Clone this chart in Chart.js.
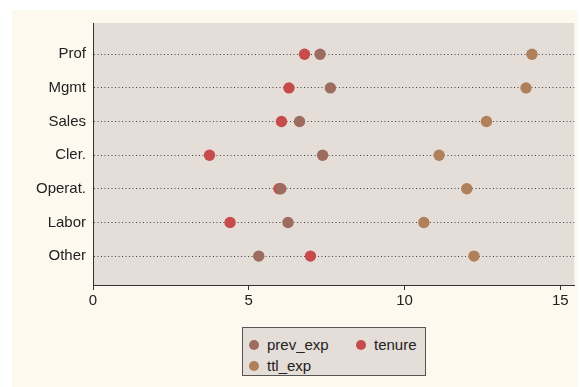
<!DOCTYPE html>
<html>
<head>
<meta charset="utf-8">
<script src="https://cdn.jsdelivr.net/npm/chart.js@4"></script>
<style>
  html, body { margin: 0; padding: 0; background: #ffffff; }
  #wrap { position: relative; width: 580px; height: 387px; }
  #legend {
    position: absolute; left: 242px; top: 327px; width: 182px; height: 47px;
    background: #e4ddd8; border: 1px solid #555;
    font-family: "Liberation Sans", Arial, sans-serif; font-size: 15px; color: #222;
  }
  .item { position: absolute; display: flex; align-items: center; white-space: nowrap; }
  .dot { width: 10px; height: 10px; border-radius: 50%; margin-right: 8px; }
</style>
</head>
<body>
<div id="wrap">
  <canvas id="c" width="580" height="387"></canvas>
  <div id="legend"></div>
</div>
<script>
const categories = ["Prof", "Mgmt", "Sales", "Cler.", "Operat.", "Labor", "Other"];
const prevExp = [7.29, 7.62, 6.63, 7.37, 6.03, 6.26, 5.32];
const tenure  = [6.79, 6.29, 6.05, 3.74, 5.97, 4.40, 6.98];
const ttlExp  = [14.09, 13.90, 12.63, 11.11, 12.00, 10.62, 12.23];
const xTicks = [0, 5, 10, 15];

const colors = { prev: "#9c6c5f", tenure: "#c64c4b", ttl: "#b0805a" };

function pts(vals) { return vals.map((v, i) => ({ x: v, y: i })); }

const bgPlugin = {
  id: "bg",
  beforeDraw(chart) {
    const { ctx, chartArea: a } = chart;
    ctx.save();
    ctx.fillStyle = "#ffffff";
    ctx.fillRect(0, 0, chart.width, chart.height);
    ctx.fillStyle = "#fdf9ef";
    ctx.fillRect(12, 10, 566, 377);
    ctx.fillStyle = "#e4ddd8";
    ctx.fillRect(a.left, a.top, a.right - a.left, a.bottom - a.top);
    ctx.restore();
  }
};

const font = { family: "'Liberation Sans', Arial, sans-serif", size: 15 };

new Chart(document.getElementById("c"), {
  type: "scatter",
  data: {
    datasets: [
      { label: "prev_exp", data: pts(prevExp), backgroundColor: colors.prev, borderWidth: 0, pointRadius: 5.7, pointHoverRadius: 5.7 },
      { label: "tenure", data: pts(tenure), backgroundColor: colors.tenure, borderWidth: 0, pointRadius: 5.7, pointHoverRadius: 5.7 },
      { label: "ttl_exp", data: pts(ttlExp), backgroundColor: colors.ttl, borderWidth: 0, pointRadius: 5.7, pointHoverRadius: 5.7 }
    ]
  },
  options: {
    responsive: false,
    animation: false,
    layout: { padding: { top: 23, right: 5, bottom: 82, left: 0 } },
    plugins: { legend: { display: false }, tooltip: { enabled: false } },
    scales: {
      x: {
        type: "linear", min: 0, max: 15.45,
        afterBuildTicks(s) { s.ticks = xTicks.map(v => ({ value: v })); },
        afterFit(s) { s.height = 20; },
        grid: { drawOnChartArea: false, drawTicks: true, tickLength: 5, color: "#333", lineWidth: 1 },
        border: { display: true, color: "#333", width: 1 },
        ticks: { font, color: "#222", padding: 2, maxRotation: 0 }
      },
      y: {
        type: "linear", min: -0.93, max: 6.86, reverse: true,
        afterBuildTicks(s) { s.ticks = categories.map((c, i) => ({ value: i })); },
        afterFit(s) { s.width = 93; },
        grid: { drawOnChartArea: true, drawTicks: false, color: "#444", lineWidth: 1 },
        border: { display: true, color: "#333", width: 1, dash: [1, 2.5] },
        ticks: { font, color: "#222", padding: 7, callback: (v) => categories[v] }
      }
    }
  },
  plugins: [bgPlugin]
});

const legendItems = [
  { label: "prev_exp", color: colors.prev, left: 6, top: 8 },
  { label: "tenure", color: colors.tenure, left: 113, top: 8 },
  { label: "ttl_exp", color: colors.ttl, left: 6, top: 29 }
];
const lg = document.getElementById("legend");
legendItems.forEach(it => {
  const d = document.createElement("div");
  d.className = "item";
  d.style.left = it.left + "px";
  d.style.top = it.top + "px";
  const dot = document.createElement("span");
  dot.className = "dot";
  dot.style.background = it.color;
  const t = document.createElement("span");
  t.textContent = it.label;
  d.appendChild(dot); d.appendChild(t);
  lg.appendChild(d);
});
</script>
</body>
</html>
